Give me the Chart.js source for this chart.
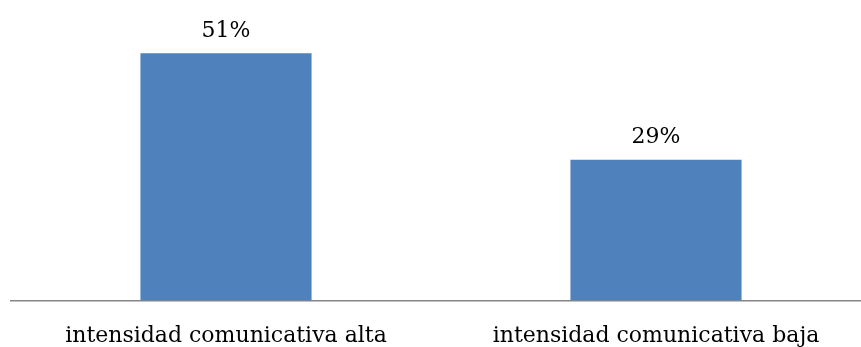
<!DOCTYPE html>
<html>
<head>
<meta charset="utf-8">
<script src="https://cdn.jsdelivr.net/npm/chart.js@4.4.1/dist/chart.umd.min.js"></script>
<style>
  html, body { margin: 0; padding: 0; background: #ffffff; overflow: hidden; }
  canvas { display: block; }
</style>
</head>
<body>
<canvas id="chart" width="871" height="347"></canvas>
<script>
// Share of respondents by communicative intensity (%)
const categories = ["intensidad comunicativa alta", "intensidad comunicativa baja"];
const values = [51, 29];

const FONT = "'DejaVu Serif', serif";

// Draws the percentage above each bar
const valueLabels = {
  id: "valueLabels",
  afterDatasetsDraw(chart) {
    const ctx = chart.ctx;
    const meta = chart.getDatasetMeta(0);
    ctx.save();
    ctx.font = "22px " + FONT;
    ctx.fillStyle = "#000000";
    ctx.textAlign = "center";
    ctx.textBaseline = "alphabetic";
    meta.data.forEach((bar, i) => {
      ctx.fillText(values[i] + "%", bar.x, bar.y - 16.5);
    });
    ctx.restore();
  }
};

new Chart(document.getElementById("chart"), {
  type: "bar",
  data: {
    labels: categories,
    datasets: [{
      data: values,
      backgroundColor: "#4F81BD",
      borderWidth: 0,
      barPercentage: 0.398,
      categoryPercentage: 1.0
    }]
  },
  options: {
    responsive: false,
    animation: false,
    // the x axis reserves tick padding on both sides of its labels; the
    // negative bottom padding gives the lower half back to the plot
    layout: { padding: { left: 11, right: 0, top: 9.5, bottom: -24.5 } },
    plugins: { legend: { display: false }, tooltip: { enabled: false } },
    scales: {
      x: {
        grid: { display: false, drawTicks: false },
        border: { display: true, color: "#868686", width: 1.5 },
        ticks: { color: "#000000", font: { family: FONT, size: 22, lineHeight: 1.0 }, padding: 24.5, maxRotation: 0 }
      },
      y: {
        display: false,
        min: 0,
        max: 60
      }
    }
  },
  plugins: [valueLabels]
});
</script>
</body>
</html>
